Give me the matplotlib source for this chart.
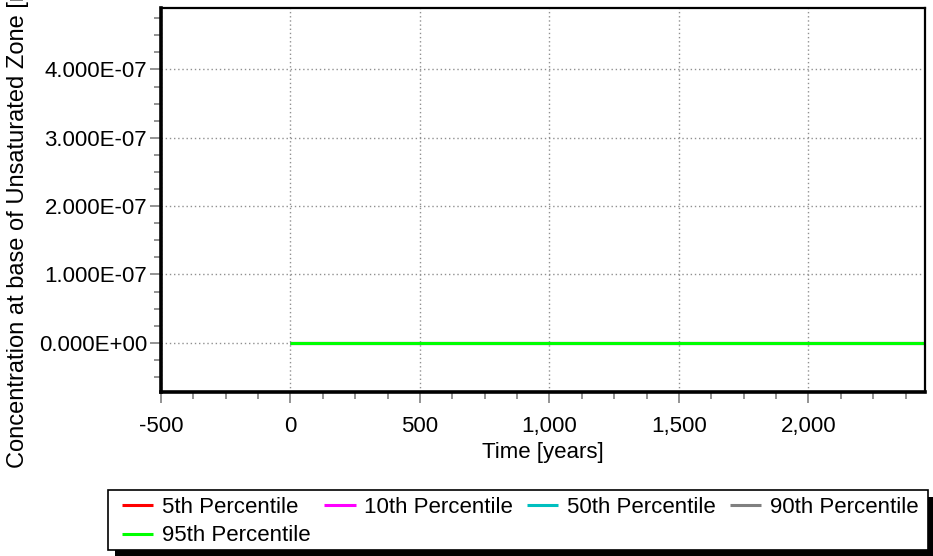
import matplotlib
matplotlib.use("Agg")
import matplotlib.pyplot as plt
from matplotlib.patches import Rectangle
from matplotlib.ticker import FuncFormatter, MultipleLocator

plt.rcParams["font.family"] = ["Liberation Sans", "DejaVu Sans"]

# Percentile curves of concentration at the base of the unsaturated zone
time_years = [0, 500, 1000, 1500, 2000, 2500]
p05 = [0.0, 0.0, 0.0, 0.0, 0.0, 0.0]
p10 = [0.0, 0.0, 0.0, 0.0, 0.0, 0.0]
p50 = [0.0, 0.0, 0.0, 0.0, 0.0, 0.0]
p90 = [0.0, 0.0, 0.0, 0.0, 0.0, 0.0]
p95 = [0.0, 0.0, 0.0, 0.0, 0.0, 0.0]

series = [
    ("5th Percentile", p05, "#FF0000"),
    ("10th Percentile", p10, "#FF00FF"),
    ("50th Percentile", p50, "#00BFBF"),
    ("90th Percentile", p90, "#808080"),
    ("95th Percentile", p95, "#00FF00"),
]

FS = 16
W, H = 933, 556

fig = plt.figure(figsize=(W / 100, H / 100), dpi=100)
ax = fig.add_axes([161 / W, 1 - 392 / H, (925 - 161) / W, (392 - 8) / H])

handles = {}
for name, vals, color in series:
    (ln,) = ax.plot(time_years, vals, color=color, lw=2.2, solid_capstyle="butt")
    handles[name] = ln

ax.set_xlim(-500, 2450)
ax.set_ylim(-7.2e-8, 4.9e-7)

ax.xaxis.set_major_locator(MultipleLocator(500))
ax.xaxis.set_minor_locator(MultipleLocator(125))
ax.yaxis.set_major_locator(MultipleLocator(1e-7))
ax.yaxis.set_minor_locator(MultipleLocator(2.5e-8))
ax.xaxis.set_major_formatter(FuncFormatter(lambda v, p: f"{int(round(v)):,}"))
ax.yaxis.set_major_formatter(FuncFormatter(lambda v, p: f"{v:.3E}"))

ax.tick_params(axis="both", which="major", direction="out", length=8, width=1.2,
               color="#808080", labelsize=FS)
ax.tick_params(axis="y", which="major", pad=2)
ax.tick_params(axis="x", which="major", pad=9)
ax.tick_params(axis="both", which="minor", direction="out", length=5, width=1.2,
               color="#808080")

ax.grid(True, which="major", color="#909090", linestyle=(0, (1, 2)), lw=1)
ax.set_axisbelow(True)

for side in ["left", "bottom"]:
    ax.spines[side].set_linewidth(2.6)
for side in ["top", "right"]:
    ax.spines[side].set_linewidth(1.6)

ax.set_xlabel("Time [years]", fontsize=FS, labelpad=4)
# long y label, runs past the top edge of the figure
fig.text(18 / W, 1 - 468 / H, "Concentration at base of Unsaturated Zone [mg/L]",
         rotation=90, ha="center", va="bottom", fontsize=17)

# legend frame with a solid drop shadow
box_x0, box_x1, box_y0, box_y1 = 108, 928, 490, 550
fig.patches.append(Rectangle((box_x0 + 7, H - box_y1 - 7), box_x1 - box_x0, box_y1 - box_y0,
                             transform=None, facecolor="black", edgecolor="none", zorder=1))
fig.patches.append(Rectangle((box_x0, H - box_y1), box_x1 - box_x0, box_y1 - box_y0,
                             transform=None, facecolor="white", edgecolor="black",
                             lw=1.2, zorder=2))

# row-major ordering for a 4-column legend
order = ["5th Percentile", "95th Percentile", "10th Percentile",
         "50th Percentile", "90th Percentile"]
leg = fig.legend([handles[k] for k in order], order,
                 loc="upper left", bbox_to_anchor=(122 / W, 1 - 497 / H),
                 ncol=4, fontsize=FS, frameon=False,
                 handlelength=1.4, handletextpad=0.4, borderpad=0,
                 labelspacing=0.33, borderaxespad=0, columnspacing=0.62)
leg.set_zorder(3)

fig.savefig("out.png", dpi=100)
